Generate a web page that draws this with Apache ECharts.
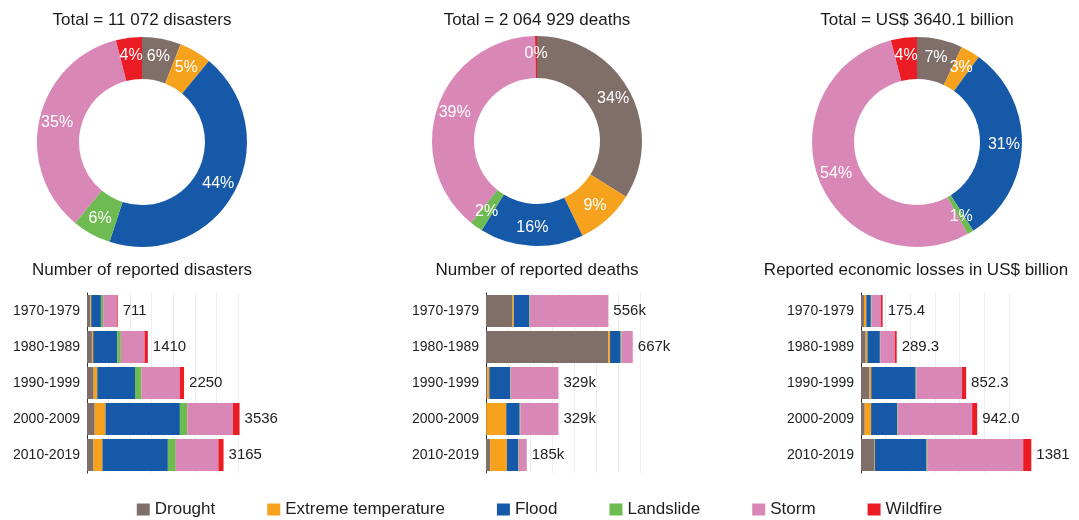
<!DOCTYPE html>
<html>
<head>
<meta charset="utf-8">
<title>Disasters, deaths and losses 1970-2019</title>
<script src="https://cdn.jsdelivr.net/npm/echarts@6/dist/echarts.min.js"></script>
<style>
  html, body { margin: 0; padding: 0; background: #fff; }
  #chart { width: 1079px; height: 520px; }
</style>
</head>
<body>
<div id="chart"></div>
<script>
var hazards = ['Drought', 'Extreme temperature', 'Flood', 'Landslide', 'Storm', 'Wildfire'];
var colors = ['#806e68', '#f6a21c', '#1559a8', '#6dbb51', '#d987b7', '#ec1c24'];
var decades = ['1970-1979', '1980-1989', '1990-1999', '2000-2009', '2010-2019'];

// donut shares (%), same order as hazards
var disasterShare = [6, 5, 44, 6, 35, 4];
var deathShare = [34, 9, 16, 2, 39, 0.3];
var lossShare = [7, 3, 31, 1, 54, 4];

// decade values, one row per hazard
var disasters = [
    [75, 114, 154, 179, 151],
    [22, 30, 84, 249, 207],
    [225, 556, 875, 1725, 1516],
    [52, 84, 146, 171, 183],
    [315, 550, 891, 1057, 988],
    [22, 76, 100, 155, 120]
];
var disasterTotals = ['711', '1410', '2250', '3536', '3165'];

// thousands of deaths
var deaths = [
    [121, 556, 5, 1, 19],
    [6, 8, 10, 91, 76],
    [69, 48, 94, 61, 51],
    [3, 4, 3, 3, 3],
    [357, 51, 217, 173, 36],
    [0.2, 0.2, 0.2, 0.2, 0.2]
];
var deathTotals = ['556k', '667k', '329k', '329k', '185k'];

// US$ billion
var losses = [
    [24, 38, 69, 30, 106],
    [19, 14, 14, 52, 6],
    [37, 101, 360, 211, 418],
    [5, 3, 6, 5, 6],
    [77.4, 117.3, 370.3, 603, 779],
    [13, 16, 33, 41, 66]
];
var lossTotals = ['175.4', '289.3', '852.3', '942.0', '1381'];

var font = 'Liberation Sans, Arial, sans-serif';
var chart = echarts.init(document.getElementById('chart'));

// donut titles and bar titles
var titles = [
    {x: 142, y: 20, text: 'Total = 11 072 disasters'},
    {x: 537, y: 20, text: 'Total = 2 064 929 deaths'},
    {x: 917, y: 20, text: 'Total = US$ 3640.1 billion'},
    {x: 142, y: 270, text: 'Number of reported disasters'},
    {x: 537, y: 270, text: 'Number of reported deaths'},
    {x: 916, y: 270, text: 'Reported economic losses in US$ billion'}
];

function pie(center, shares) {
    return {
        type: 'pie',
        center: center,
        radius: [63, 105],
        startAngle: 90,
        silent: true,
        data: hazards.map(function(n, i) {
            return {name: n, value: shares[i], itemStyle: {color: colors[i]}};
        }),
        label: {
            position: 'inside',
            color: '#fff',
            fontSize: 16,
            fontFamily: font,
            formatter: function(p) { return Math.round(p.percent) + '%'; }
        },
        labelLine: {show: false},
        emphasis: {disabled: true}
    };
}

var bars = [
    {rows: disasters, totals: disasterTotals, left: 87, width: 151, max: 3500, interval: 500},
    {rows: deaths, totals: deathTotals, left: 486, width: 154, max: 700, interval: 100},
    {rows: losses, totals: lossTotals, left: 861, width: 148, max: 1200, interval: 200}
];

var grids = [], xAxes = [], yAxes = [], series = [];
bars.forEach(function(b, c) {
    grids.push({left: b.left, top: 293, width: b.width, height: 180});
    xAxes.push({
        gridIndex: c, type: 'value', min: 0, max: b.max, interval: b.interval,
        axisLabel: {show: false}, axisLine: {show: false}, axisTick: {show: false},
        splitLine: {lineStyle: {color: '#ececec'}}
    });
    yAxes.push({
        gridIndex: c, type: 'category', data: decades, inverse: true,
        axisLine: {lineStyle: {color: '#333'}},
        axisTick: {show: false},
        axisLabel: {fontSize: 14, color: '#222', margin: 7, fontFamily: font}
    });
    b.rows.forEach(function(row, h) {
        var s = {
            type: 'bar', name: hazards[h], stack: 'c' + c,
            xAxisIndex: c, yAxisIndex: c,
            data: row, barWidth: 32, clip: false, silent: true,
            itemStyle: {color: colors[h]}
        };
        if (h === hazards.length - 1) {
            s.label = {
                show: true, position: 'right', distance: 5,
                fontSize: 15, color: '#222', fontFamily: font,
                formatter: function(p) { return b.totals[p.dataIndex]; }
            };
        }
        series.push(s);
    });
});

series.push(pie([142, 142], disasterShare));
series.push(pie([537, 141], deathShare));
series.push(pie([917, 142], lossShare));

chart.setOption({
    animation: false,
    color: colors,
    textStyle: {fontFamily: font},
    graphic: titles.map(function(t) {
        return {
            type: 'text', x: t.x, y: t.y,
            style: {text: t.text, align: 'center', verticalAlign: 'middle',
                    fontSize: 17, fontFamily: font, fill: '#1a1a1a'}
        };
    }),
    legend: {
        data: hazards, left: 'center', top: 496,
        icon: 'rect', itemWidth: 13, itemHeight: 12, itemGap: 52,
        selectedMode: false,
        textStyle: {fontSize: 17, color: '#222', fontFamily: font}
    },
    grid: grids,
    xAxis: xAxes,
    yAxis: yAxes,
    series: series
});
</script>
</body>
</html>
